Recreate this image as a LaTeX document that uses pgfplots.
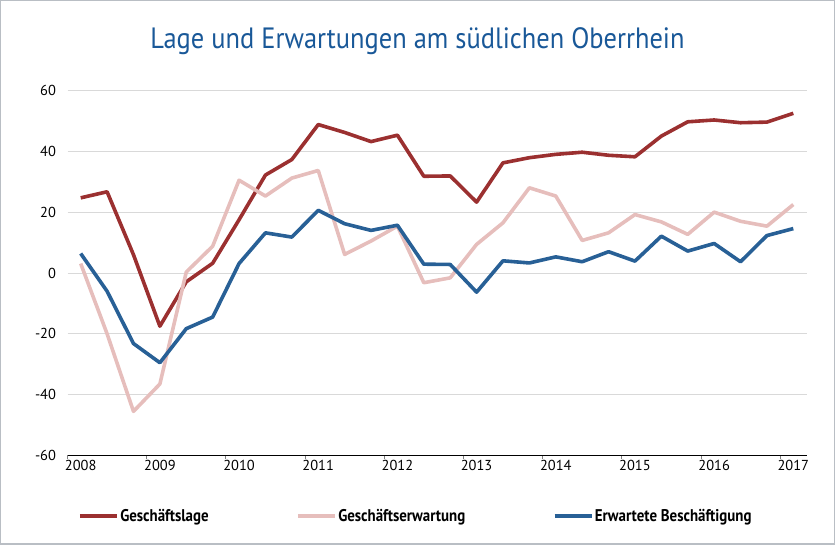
\documentclass[border=0pt]{standalone}
\usepackage{fontspec}
\setmainfont{PT Sans}
\newfontfamily\titlefont[FakeStretch=0.9]{PT Sans}
\newfontfamily\legfont[FakeStretch=0.88]{PT Sans}
\usepackage{pgfplots}
\pgfplotsset{compat=1.18}
\definecolor{cRed}{RGB}{155,48,48}
\definecolor{cPink}{RGB}{230,190,188}
\definecolor{cBlue}{RGB}{40,96,150}
\definecolor{cTitle}{RGB}{25,88,152}
\definecolor{cFrame}{RGB}{185,190,196}
\definecolor{cGrid}{RGB}{217,217,217}

\pgfplotstableread{
i lage erw besch
0 24.7 3.1 6.4
1 26.7 -20.0 -6.0
2 6.0 -45.5 -23.2
3 -17.5 -36.5 -29.5
4 -2.9 0.3 -18.3
5 3.2 8.8 -14.5
6 17.5 30.5 3.1
7 32.2 25.3 13.2
8 37.3 31.2 11.8
9 48.8 33.7 20.6
10 46.2 6.1 16.2
11 43.2 10.5 14.0
12 45.3 15.4 15.7
13 31.8 -3.2 2.9
14 31.9 -1.6 2.8
15 23.3 9.4 -6.3
16 36.2 16.5 4.0
17 37.9 28.0 3.3
18 39.0 25.3 5.3
19 39.7 10.7 3.7
20 38.7 13.2 7.0
21 38.2 19.2 3.9
22 45.0 16.8 12.1
23 49.7 12.7 7.2
24 50.3 20.0 9.7
25 49.4 17.0 3.7
26 49.6 15.4 12.3
27 52.5 22.5 14.6
}\data

\begin{document}
\begin{tikzpicture}[x=1bp,y=1bp]
\draw[cFrame, line width=1.5bp] (0.75,0.75) rectangle (834.25,544.25);
\node[text=cTitle, font=\titlefont\fontsize{29.5}{34}\selectfont, anchor=base] at (417.5,496) {Lage und Erwartungen am südlichen Oberrhein};
\begin{axis}[
  at={(67.5bp,89.5bp)}, anchor=south west,
  scale only axis, width=739bp, height=365bp,
  xmin=-0.5, xmax=27.5, ymin=-60, ymax=60,
  axis x line*=bottom, axis y line*=left,
  x axis line style={black, line width=0.9bp, -},
  y axis line style={draw=none},
  ytick={-60,-40,...,60},
  ymajorgrids, grid style={cGrid, line width=0.9bp},
  xtick={0,3,...,27},
  xticklabels={2008,2009,2010,2011,2012,2013,2014,2015,2016,2017},
  minor xtick={-0.5,2.5,...,26.5},
  major tick length=0pt, minor tick length=4bp,
  tick align=outside,
  minor tick style={gray, line width=0.8bp},
  /pgf/number format/assume math mode=true,
  xticklabel style={font=\fontsize{14.5}{16}\selectfont, yshift=-1bp},
  yticklabel style={font=\fontsize{14.5}{16}\selectfont, xshift=-8bp},
  legend columns=3,
  legend style={at={(0.0142,-0.1658)}, anchor=west, draw=none, fill=none,
    inner sep=0pt, font=\legfont\bfseries\fontsize{17}{19}\selectfont,
    /tikz/every even column/.append style={column sep=86bp},
    nodes={inner xsep=1.5bp, inner ysep=0pt}},
  legend image code/.code={\draw[#1, line width=3.6bp] (0bp,0bp) -- (37bp,0bp);},
  line join=round,
]
\addplot[cRed, line width=3.6bp, mark=none] table[x=i, y=lage] {\data};
\addplot[cPink, line width=3.6bp, mark=none] table[x=i, y=erw] {\data};
\addplot[cBlue, line width=3.6bp, mark=none] table[x=i, y=besch] {\data};
\legend{Geschäftslage,Geschäftserwartung,Erwartete Beschäftigung}
\end{axis}
\end{tikzpicture}
\end{document}
